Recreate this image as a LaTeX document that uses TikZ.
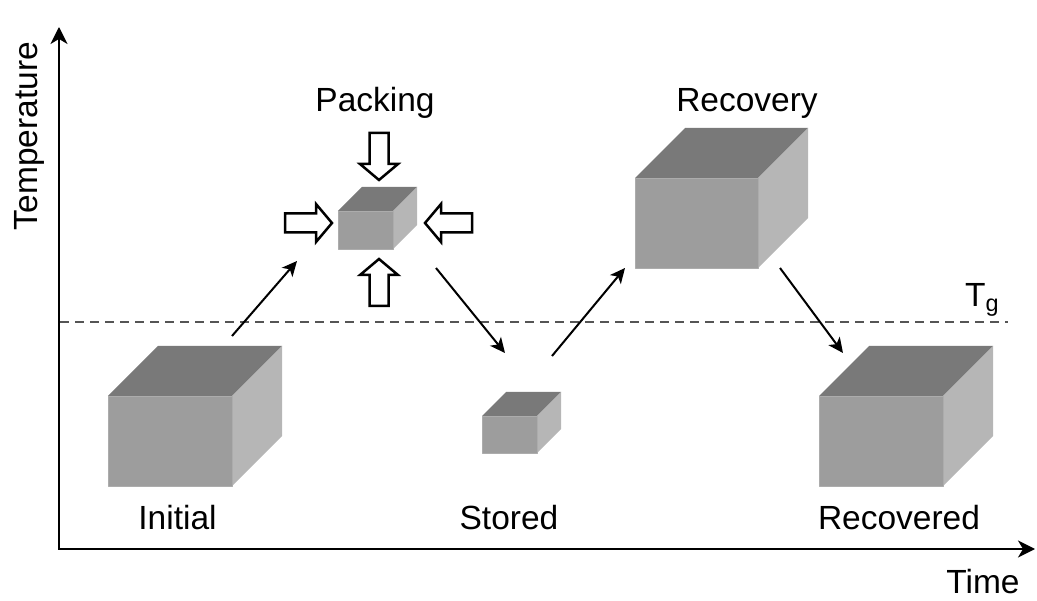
\documentclass[tikz,border=0pt]{standalone}
\usepackage{fontspec}
\setmainfont{Liberation Sans}
\usetikzlibrary{arrows.meta}
\definecolor{cubefront}{RGB}{157,157,157}
\definecolor{cubetop}{RGB}{121,121,121}
\definecolor{cubeside}{RGB}{182,182,182}
\definecolor{cubeedge}{RGB}{172,172,172}
\definecolor{tgline}{RGB}{85,85,85}
\begin{document}
\begin{tikzpicture}[x=1pt,y=-1pt,
  lbl/.style={font=\fontsize{33.5}{40}\selectfont, anchor=base, inner sep=0pt},
  axisline/.style={line width=2pt, -{Stealth[length=17pt,width=17pt,inset=5pt]}},
  flow/.style={line width=2pt, -{Stealth[length=15pt,width=14pt,inset=4pt]}},
  faces/.style={draw=cubeedge, line width=0.8pt, line join=round},
  % cube: front face top-left at the pic origin; width/height/depth
  pics/cube/.style args={#1/#2/#3}{code={
    \fill[cubefront] (0,0) rectangle (#1,#2);
    \draw[faces] (0,0) rectangle (#1,#2);
    \fill[cubetop] (0,0) -- (#3,-#3) -- (#1+#3,-#3) -- (#1,0) -- cycle;
    \fill[cubeside] (#1,0) -- (#1+#3,-#3) -- (#1+#3,#2-#3) -- (#1,#2) -- cycle;
    \draw[faces] (#1,0) -- (#1,#2);
  }},
  % hollow block arrow pointing along +x from its tail
  pics/squeeze/.style={code={
    \draw[line width=2.5pt, fill=white, line join=miter]
      (0,-9.5) -- (31,-9.5) -- (31,-19) -- (47,0) -- (31,19) -- (31,9.5) -- (0,9.5) -- cycle;
  }}
]
\useasboundingbox (0,0) rectangle (1037,601);

% axes
\coordinate (origin) at (59,549);
\coordinate (ytip) at (59,27);
\coordinate (xtip) at (1035,549);
\draw[axisline] ([yshift=1pt]origin) -- (ytip);
\draw[axisline] ([xshift=-1pt]origin) -- (xtip);
\node[lbl, rotate=90] (templabel) at (37,136) {Temperature};
\node[lbl] (timelabel) at (983,594) {Time};

% glass transition line
\coordinate (tgstart) at (60,322);
\coordinate (tgend) at (1008,322);
\draw[tgline, line width=2pt, dash pattern=on 9pt off 6pt] (tgstart) -- (tgend);
\node[lbl, anchor=base west] (tglabel) at (965,307) {T\textsubscript{g}};

% cubes
\pic at (108,396) {cube=124/90/50};
\pic at (338,211) {cube=55/38/24};
\pic at (482,416) {cube=55/37/24};
\pic at (635,178) {cube=123/90/50};
\pic at (819,396) {cube=124/90/50};

% compression arrows around the packed cube
\pic[rotate=-90] at (379,133) {squeeze};
\pic[rotate=90] at (379,306) {squeeze};
\pic at (285,223) {squeeze};
\pic[rotate=180] at (472,223) {squeeze};

% stage labels
\node[lbl] (initial) at (177.5,530) {Initial};
\node[lbl] (packing) at (375,112) {Packing};
\node[lbl] (stored) at (509,530) {Stored};
\node[lbl] (recovery) at (747,112) {Recovery};
\node[lbl] (recovered) at (899,530) {Recovered};

% process arrows
\coordinate (a1s) at (232,336); \coordinate (a1e) at (297,261);
\coordinate (a2s) at (436,268); \coordinate (a2e) at (505,353);
\coordinate (a3s) at (552,356); \coordinate (a3e) at (625,268);
\coordinate (a4s) at (780,268); \coordinate (a4e) at (843,353);
\draw[flow] (a1s) -- (a1e);
\draw[flow] (a2s) -- (a2e);
\draw[flow] (a3s) -- (a3e);
\draw[flow] (a4s) -- (a4e);
\end{tikzpicture}
\end{document}
